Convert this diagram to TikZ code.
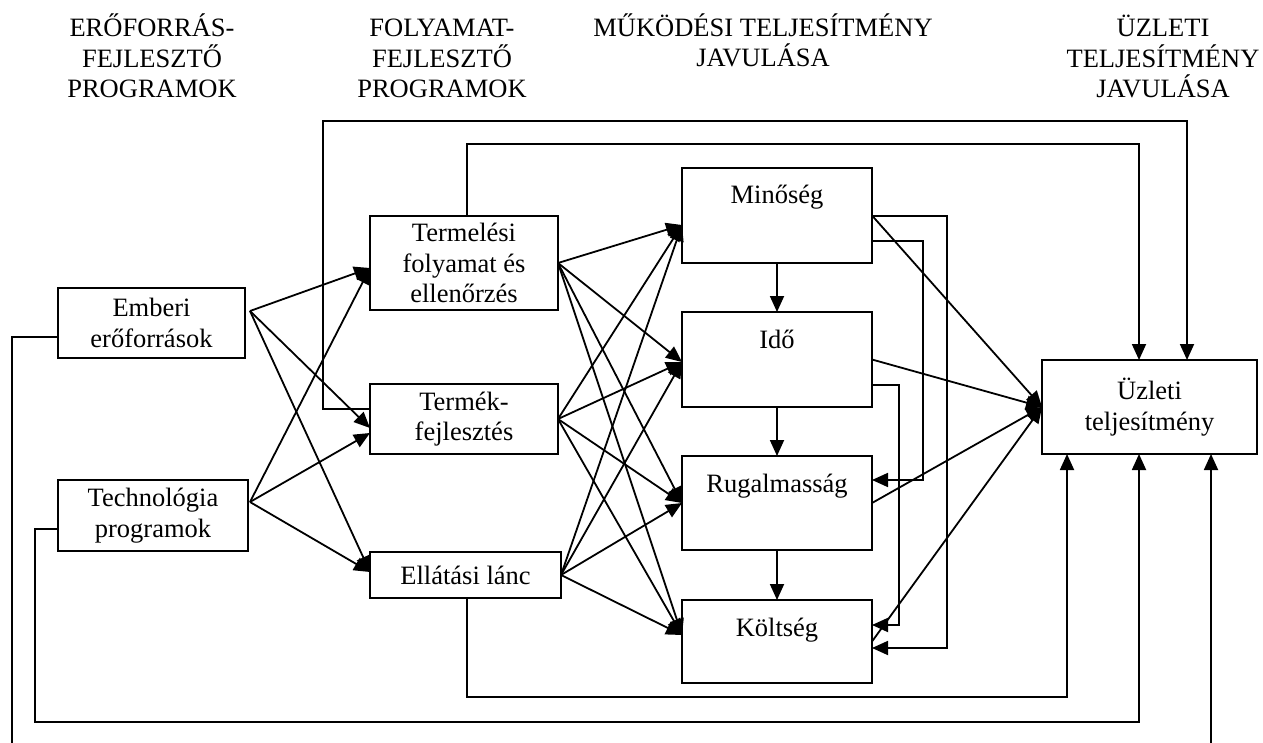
\documentclass[tikz,border=0pt]{standalone}
\usepackage{fontspec}
\setmainfont{Liberation Serif}
\usetikzlibrary{arrows.meta}
\begin{document}
\begin{tikzpicture}[x=1pt,y=-1pt,
  every node/.style={font=\fontsize{26.5}{30.5}\selectfont, inner sep=0pt, outer sep=0pt},
  box/.style={draw, line width=1.8pt, align=center},
  hdr/.style={align=center},
  lbl/.style={anchor=base},
  ln/.style={line width=1.8pt},
  arr/.style={line width=1.8pt, -{Triangle[length=16pt,width=14pt]}}]
\useasboundingbox (0,0) rectangle (1263,743);

% headers
\node[hdr] (h1) at (152,56) {ERŐFORRÁS-\\FEJLESZTŐ\\PROGRAMOK};
\node[hdr] (h2) at (442,58.5) {FOLYAMAT-\\FEJLESZTŐ\\PROGRAMOK};
\node[hdr] (h3) at (763,40.5) {MŰKÖDÉSI TELJESÍTMÉNY\\JAVULÁSA};
\node[hdr] (h4) at (1163,56.5) {ÜZLETI\\TELJESÍTMÉNY\\JAVULÁSA};

% boxes
\node[box, minimum width=187pt, minimum height=70pt] (emb) at (151.5,323) {Emberi\\erőforrások};
\node[box, minimum width=190pt, minimum height=71pt] (tech) at (153,515.5) {Technológia\\programok};
\node[box, minimum width=188pt, minimum height=94pt] (term) at (464,263) {Termelési\\folyamat és\\ellenőrzés};
\node[box, minimum width=188pt, minimum height=70pt] (termek) at (464,419) {Termék-\\fejlesztés};
\node[box, minimum width=191pt, minimum height=46pt] (ellat) at (465.5,575) {Ellátási lánc};
\node[box, minimum width=190pt, minimum height=95pt] (mino) at (777,215.5) {};
\node[box, minimum width=190pt, minimum height=95pt] (ido) at (777,359.5) {};
\node[box, minimum width=190pt, minimum height=94pt] (rug) at (777,503) {};
\node[box, minimum width=190pt, minimum height=83pt] (kolt) at (777,641.5) {};
\node[box, minimum width=215pt, minimum height=94pt] (uzl) at (1149.5,407) {Üzleti\\teljesítmény};

\node[lbl] (minot) at ([yshift=-36pt]mino.north) {Minőség};
\node[lbl] (idot) at ([yshift=-36pt]ido.north) {Idő};
\node[lbl] (rugt) at ([yshift=-36pt]rug.north) {Rugalmasság};
\node[lbl] (koltt) at ([yshift=-36pt]kolt.north) {Költség};

% resource -> process
\coordinate (embout) at (250,311);
\coordinate (techout) at (250,502);
\draw[arr] (embout) -- ([yshift=-5pt]term.west);
\draw[arr] (embout) -- ([yshift=-9pt]termek.west);
\draw[arr] (embout) -- ([yshift=3pt]ellat.west);
\draw[arr] (techout) -- ([yshift=-5pt]term.west);
\draw[arr] (techout) -- ([yshift=-14pt]termek.west);
\draw[arr] (techout) -- ([yshift=3pt]ellat.west);

% process -> operational
\foreach \s in {term,termek,ellat}{
  \draw[arr] (\s.east) -- ([yshift=-9.5pt]mino.west);
  \draw[arr] (\s.east) -- ([yshift=-2.5pt]ido.west);
  \draw[arr] (\s.east) -- (rug.west);
  \draw[arr] (\s.east) -- ([yshift=6.5pt]kolt.west);
}

% operational chain
\draw[arr] (mino.south) -- (ido.north);
\draw[arr] (ido.south) -- (rug.north);
\draw[arr] (rug.south) -- (kolt.north);

% operational -> business
\foreach \s in {mino,ido,rug,kolt}{
  \draw[arr] (\s.east) -- (uzl.west);
}

% feedback loops
\draw[arr] ([yshift=-0.5pt]mino.east) -| (947,648) -- ([yshift=-6.5pt]kolt.east);
\draw[arr] ([yshift=-25.5pt]mino.east) -| (923,480) -- ([yshift=23pt]rug.east);
\draw[arr] ([yshift=-25.5pt]ido.east) -| (899,625) -- ([yshift=16.5pt]kolt.east);

% top lines
\draw[arr] ([yshift=10pt]termek.west) -| (323,121) -| ([xshift=37.5pt]uzl.north);
\draw[arr] ([xshift=3pt]term.north) |- (1139,144) -- ([xshift=-10.5pt]uzl.north);

% bottom lines
\draw[arr] ([xshift=1.5pt]ellat.south) |- (1067,697) -- ([xshift=-82.5pt]uzl.south);
\draw[arr] ([yshift=-13.5pt]tech.west) -| (35,722) -- (1139,722) -- ([xshift=-10.5pt]uzl.south);
\coordinate (embend) at (12,743);
\draw[ln] ([yshift=-14pt]emb.west) -| (embend);
\coordinate (uzlin) at (1211,743);
\draw[arr] (uzlin) -- ([xshift=61.5pt]uzl.south);
\end{tikzpicture}
\end{document}
